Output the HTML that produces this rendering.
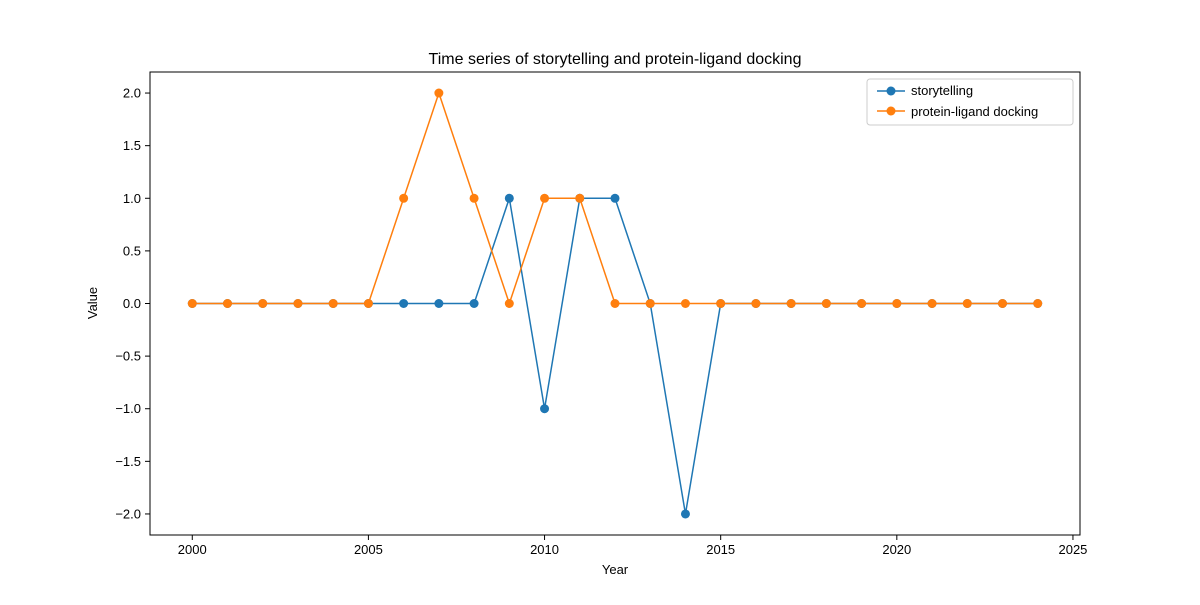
<!DOCTYPE html>
<html><head><meta charset="utf-8"><style>body{margin:0;background:#fff}svg{font-family:"Liberation Sans","DejaVu Sans",sans-serif}</style></head>
<body>
<svg id="chart" width="1200" height="600" xmlns="http://www.w3.org/2000/svg">
<rect width="1200" height="600" fill="#fff"/>
<text x="615" y="64" text-anchor="middle" font-size="16">Time series of storytelling and protein-ligand docking</text>
<g id="ticks"></g>
<g id="series"></g>
<rect x="150" y="72" width="930" height="463" fill="none" stroke="#000" stroke-width="1"/>
<text x="615" y="574" text-anchor="middle" font-size="13">Year</text>
<text transform="translate(97,303) rotate(-90)" text-anchor="middle" font-size="13">Value</text>
<g>
<rect x="867" y="79" width="206" height="46" fill="#fff" stroke="#ccc" rx="3"/>
<line x1="877" y1="91" x2="905" y2="91" stroke="#1f77b4" stroke-width="1.5"/><circle cx="891" cy="91" r="4.5" fill="#1f77b4"/>
<text x="911" y="95" font-size="13">storytelling</text>
<line x1="877" y1="111" x2="905" y2="111" stroke="#ff7f0e" stroke-width="1.5"/><circle cx="891" cy="111" r="4.5" fill="#ff7f0e"/>
<text x="911" y="116" font-size="13">protein-ligand docking</text>
</g>
</svg>
<script>
const years=[2000,2001,2002,2003,2004,2005,2006,2007,2008,2009,2010,2011,2012,2013,2014,2015,2016,2017,2018,2019,2020,2021,2022,2023,2024];
const storytelling=[0,0,0,0,0,0,0,0,0,1,-1,1,1,0,-2,0,0,0,0,0,0,0,0,0,0];
const docking=[0,0,0,0,0,0,1,2,1,0,1,1,0,0,0,0,0,0,0,0,0,0,0,0,0];
const xTicks=[2000,2005,2010,2015,2020,2025];
const yTicks=[-2,-1.5,-1,-0.5,0,0.5,1,1.5,2];
const NS="http://www.w3.org/2000/svg";
const X=v=>150+(v-1998.8)/26.4*930;
const Y=v=>72+(2.2-v)/4.4*463;
const tg=document.getElementById('ticks'),sg=document.getElementById('series');
function mk(t,a,p){const e=document.createElementNS(NS,t);for(const k in a)e.setAttribute(k,a[k]);p.appendChild(e);return e;}
xTicks.forEach(t=>{
 const l=mk('line',{x1:X(t),x2:X(t),y1:535,y2:540,stroke:'#000'},tg);
 
 
 const s=mk('text',{x:X(t),y:554,'text-anchor':'middle','font-size':13},tg);s.textContent=t;
 
 
});
yTicks.forEach(t=>{
 const l=mk('line',{x1:145,x2:150,y1:Y(t),y2:Y(t),stroke:'#000'},tg);
 
 
 const s=mk('text',{x:141,y:Y(t)+4.5,'text-anchor':'end','font-size':13},tg);s.textContent=(t<0?'\u2212':'')+Math.abs(t).toFixed(1);
 
 
});
[[storytelling,'#1f77b4','storytelling'],[docking,'#ff7f0e','protein-ligand-docking']].forEach(([d,c,n])=>{
 const p=mk('polyline',{points:years.map((y,i)=>X(y)+','+Y(d[i])).join(' '),fill:'none',stroke:c,'stroke-width':1.5},sg);
 
 
 years.forEach((y,i)=>{const m=mk('circle',{cx:X(y),cy:Y(d[i]),r:4.5,fill:c},sg);
  
  });
});
</script>
</body></html>
